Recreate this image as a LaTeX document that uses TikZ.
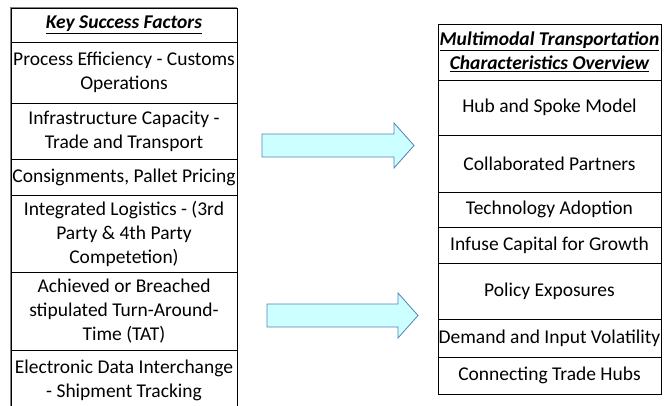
\documentclass[tikz,border=0pt]{standalone}
\usepackage{fontspec}
\setmainfont{Carlito}
\begin{document}
\begin{tikzpicture}[x=1pt, y=-1pt,
    cell/.style={draw=black, line width=0.8pt, inner sep=0pt, align=center,
      font=\fontsize{19.5}{24}\selectfont},
    leftcell/.style={cell, minimum width=226pt},
    rightcell/.style={cell, minimum width=223pt},
    bigarrow/.style={draw={rgb,255:red,84;green,130;blue,186}, line width=0.8pt,
      fill={rgb,255:red,204;green,255;blue,255}}]
  \useasboundingbox (0,0) rectangle (666,406);
  \clip (0,0) rectangle (666,406);

  % Left table, nodes with manual coordinates
  \node[leftcell, minimum height=34pt] (ksf) at (124,25) {\textbf{\textit{\underline{Key Success Factors}}}};
  \node[leftcell, minimum height=61pt] (k1) at (124,72.5) {Process Efficiency - Customs\\Operations};
  \node[leftcell, minimum height=56pt] (k2) at (124,131) {Infrastructure Capacity -\\Trade and Transport};
  \node[leftcell, minimum height=36pt] (k3) at (124,177) {Consignments, Pallet Pricing};
  \node[leftcell, minimum height=77pt] (k4) at (124,233.5) {Integrated Logistics - (3rd\\Party \& 4th Party\\Competetion)};
  \node[leftcell, minimum height=78pt] (k5) at (124,311) {Achieved or Breached\\stipulated Turn-Around-\\Time (TAT)};
  \node[leftcell, minimum height=61pt] (k6) at (124,380.5) {Electronic Data Interchange\\- Shipment Tracking};
  \draw[gray, line width=1.4pt] (k6.south west) -- (ksf.north west) -- (ksf.north east);

  % Right table
  \node[rightcell, minimum height=56pt] (mtc) at (549.5,52) {\textbf{\textit{\underline{Multimodal Transportation}}}\\\textbf{\textit{\underline{Characteristics Overview}}}};
  \node[rightcell, minimum height=55pt] (m1) at (549.5,107.5) {Hub and Spoke Model};
  \node[rightcell, minimum height=57pt] (m2) at (549.5,163.5) {Collaborated Partners};
  \node[rightcell, minimum height=35pt] (m3) at (549.5,209.5) {Technology Adoption};
  \node[rightcell, minimum height=36pt] (m4) at (549.5,245) {Infuse Capital for Growth};
  \node[rightcell, minimum height=56pt] (m5) at (549.5,291) {Policy Exposures};
  \node[rightcell, minimum height=38pt] (m6) at (549.5,338) {Demand and Input Volatility};
  \node[rightcell, minimum height=37pt] (m7) at (549.5,375.5) {Connecting Trade Hubs};

  % Block arrows
  \draw[bigarrow] (262,134) -- (394,134) -- (394,123) -- (414,145.5) -- (394,168) -- (394,157) -- (262,157) -- cycle;
  \draw[bigarrow] (267,304) -- (398,304) -- (398,293) -- (418,315.5) -- (398,338) -- (398,327) -- (267,327) -- cycle;
\end{tikzpicture}
\end{document}
